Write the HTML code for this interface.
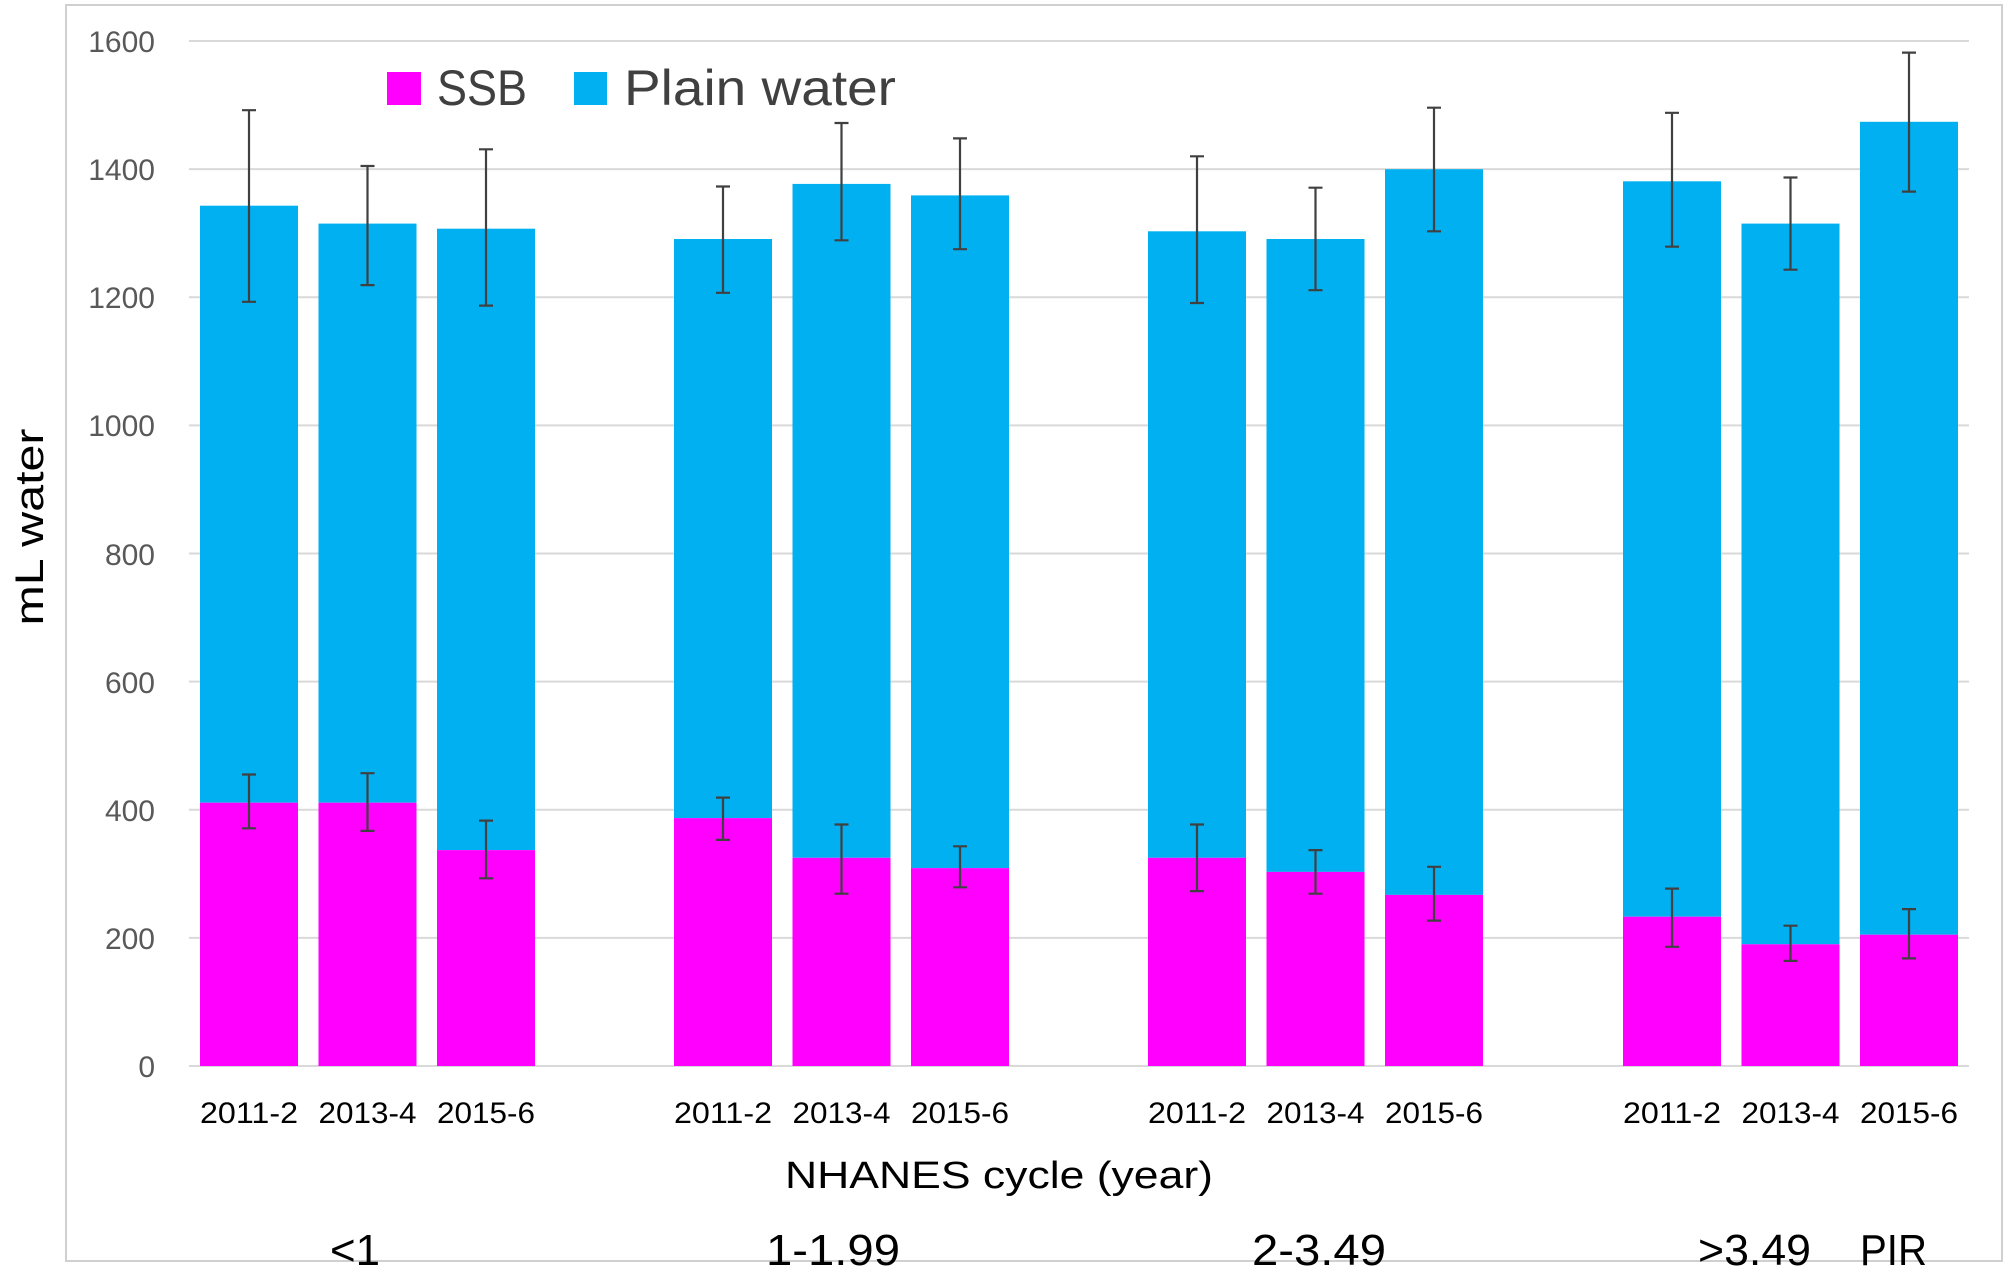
<!DOCTYPE html>
<html><head><meta charset="utf-8"><style>
html,body{margin:0;padding:0;background:#fff;}
svg{display:block;}
</style></head><body>
<svg width="2008" height="1271" viewBox="0 0 2008 1271" xmlns="http://www.w3.org/2000/svg" font-family="Liberation Sans, sans-serif">
<rect x="0" y="0" width="2008" height="1271" fill="#fff"/>
<rect x="66" y="5" width="1936" height="1256" fill="none" stroke="#d0d0d0" stroke-width="2"/>
<g stroke="#d9d9d9" stroke-width="2">
<line x1="189" x2="1969" y1="1066" y2="1066"/>
<line x1="189" x2="1969" y1="937.9" y2="937.9"/>
<line x1="189" x2="1969" y1="809.8" y2="809.8"/>
<line x1="189" x2="1969" y1="681.6" y2="681.6"/>
<line x1="189" x2="1969" y1="553.5" y2="553.5"/>
<line x1="189" x2="1969" y1="425.4" y2="425.4"/>
<line x1="189" x2="1969" y1="297.3" y2="297.3"/>
<line x1="189" x2="1969" y1="169.1" y2="169.1"/>
<line x1="189" x2="1969" y1="41" y2="41"/>
</g>
<g fill="#595959" font-size="30" text-anchor="end">
<text x="155" y="1077">0</text>
<text x="155" y="949">200</text>
<text x="155" y="821">400</text>
<text x="155" y="693">600</text>
<text x="155" y="565">800</text>
<text x="155" y="436">1000</text>
<text x="155" y="308">1200</text>
<text x="155" y="180">1400</text>
<text x="155" y="52">1600</text>
</g>
<text transform="translate(43,527) rotate(-90)" text-anchor="middle" font-size="40" fill="#000" textLength="197" lengthAdjust="spacingAndGlyphs">mL water</text>
<g fill="#00B0F0">
<rect x="200" y="205.7" width="98" height="597"/>
<rect x="318.5" y="223.6" width="98" height="579.1"/>
<rect x="437" y="228.7" width="98" height="621.4"/>
<rect x="674" y="239" width="98" height="579.1"/>
<rect x="792.5" y="183.9" width="98" height="673.9"/>
<rect x="911" y="195.4" width="98" height="672.7"/>
<rect x="1148" y="231.3" width="98" height="626.5"/>
<rect x="1266.5" y="239" width="98" height="632.9"/>
<rect x="1385" y="169.2" width="98" height="725.7"/>
<rect x="1623" y="181.3" width="98" height="735.4"/>
<rect x="1741.5" y="223.6" width="98" height="720.7"/>
<rect x="1860" y="121.8" width="98" height="812.9"/>
</g>
<g fill="#FF00FF">
<rect x="200" y="802.7" width="98" height="263.3"/>
<rect x="318.5" y="802.7" width="98" height="263.3"/>
<rect x="437" y="850.1" width="98" height="215.9"/>
<rect x="674" y="818.1" width="98" height="247.9"/>
<rect x="792.5" y="857.8" width="98" height="208.2"/>
<rect x="911" y="868.1" width="98" height="197.9"/>
<rect x="1148" y="857.8" width="98" height="208.2"/>
<rect x="1266.5" y="871.9" width="98" height="194.1"/>
<rect x="1385" y="894.9" width="98" height="171.1"/>
<rect x="1623" y="916.7" width="98" height="149.3"/>
<rect x="1741.5" y="944.3" width="98" height="121.7"/>
<rect x="1860" y="934.7" width="98" height="131.3"/>
</g>
<g stroke="#404040" stroke-width="2.2" fill="none">
<path d="M249 110.2V301.8M242 110.2H256M242 301.8H256"/>
<path d="M367.5 166V285.1M360.5 166H374.5M360.5 285.1H374.5"/>
<path d="M486 149.3V305.6M479 149.3H493M479 305.6H493"/>
<path d="M723 186.5V292.8M716 186.5H730M716 292.8H730"/>
<path d="M841.5 123V240.3M834.5 123H848.5M834.5 240.3H848.5"/>
<path d="M960 138.4V249.2M953 138.4H967M953 249.2H967"/>
<path d="M1197 156.3V303M1190 156.3H1204M1190 303H1204"/>
<path d="M1315.5 187.7V290.2M1308.5 187.7H1322.5M1308.5 290.2H1322.5"/>
<path d="M1434 107.7V231.3M1427 107.7H1441M1427 231.3H1441"/>
<path d="M1672 112.8V246.7M1665 112.8H1679M1665 246.7H1679"/>
<path d="M1790.5 177.5V269.7M1783.5 177.5H1797.5M1783.5 269.7H1797.5"/>
<path d="M1909 52.6V191.6M1902 52.6H1916M1902 191.6H1916"/>
<path d="M249 774.5V828.3M242 774.5H256M242 828.3H256"/>
<path d="M367.5 773.2V830.9M360.5 773.2H374.5M360.5 830.9H374.5"/>
<path d="M486 820.6V878.3M479 820.6H493M479 878.3H493"/>
<path d="M723 797.6V839.9M716 797.6H730M716 839.9H730"/>
<path d="M841.5 824.5V893.7M834.5 824.5H848.5M834.5 893.7H848.5"/>
<path d="M960 846.3V887.3M953 846.3H967M953 887.3H967"/>
<path d="M1197 824.5V891.1M1190 824.5H1204M1190 891.1H1204"/>
<path d="M1315.5 850.1V893.7M1308.5 850.1H1322.5M1308.5 893.7H1322.5"/>
<path d="M1434 866.8V920.6M1427 866.8H1441M1427 920.6H1441"/>
<path d="M1672 888.6V946.8M1665 888.6H1679M1665 946.8H1679"/>
<path d="M1790.5 925.7V960.9M1783.5 925.7H1797.5M1783.5 960.9H1797.5"/>
<path d="M1909 909.1V958.4M1902 909.1H1916M1902 958.4H1916"/>
</g>
<rect x="387" y="72" width="34" height="33" fill="#FF00FF"/>
<text x="437" y="105" font-size="50" fill="#404040" textLength="90" lengthAdjust="spacingAndGlyphs">SSB</text>
<rect x="574" y="72" width="33" height="33" fill="#00B0F0"/>
<text x="624" y="105" font-size="50" fill="#404040" textLength="272" lengthAdjust="spacingAndGlyphs">Plain water</text>
<g font-size="30" fill="#000" text-anchor="middle">
<text x="249" y="1123" textLength="98" lengthAdjust="spacingAndGlyphs">2011-2</text>
<text x="367.5" y="1123" textLength="98" lengthAdjust="spacingAndGlyphs">2013-4</text>
<text x="486" y="1123" textLength="98" lengthAdjust="spacingAndGlyphs">2015-6</text>
<text x="723" y="1123" textLength="98" lengthAdjust="spacingAndGlyphs">2011-2</text>
<text x="841.5" y="1123" textLength="98" lengthAdjust="spacingAndGlyphs">2013-4</text>
<text x="960" y="1123" textLength="98" lengthAdjust="spacingAndGlyphs">2015-6</text>
<text x="1197" y="1123" textLength="98" lengthAdjust="spacingAndGlyphs">2011-2</text>
<text x="1315.5" y="1123" textLength="98" lengthAdjust="spacingAndGlyphs">2013-4</text>
<text x="1434" y="1123" textLength="98" lengthAdjust="spacingAndGlyphs">2015-6</text>
<text x="1672" y="1123" textLength="98" lengthAdjust="spacingAndGlyphs">2011-2</text>
<text x="1790.5" y="1123" textLength="98" lengthAdjust="spacingAndGlyphs">2013-4</text>
<text x="1909" y="1123" textLength="98" lengthAdjust="spacingAndGlyphs">2015-6</text>
</g>
<text x="999" y="1188" font-size="38" text-anchor="middle" fill="#000" textLength="428" lengthAdjust="spacingAndGlyphs">NHANES cycle (year)</text>
<g font-size="44" fill="#000">
<text x="330" y="1265" textLength="50" lengthAdjust="spacingAndGlyphs">&lt;1</text>
<text x="766" y="1265" textLength="134" lengthAdjust="spacingAndGlyphs">1-1.99</text>
<text x="1252" y="1265" textLength="134" lengthAdjust="spacingAndGlyphs">2-3.49</text>
<text x="1698" y="1265" textLength="113" lengthAdjust="spacingAndGlyphs">&gt;3.49</text>
<text x="1860" y="1265" textLength="67" lengthAdjust="spacingAndGlyphs">PIR</text>
</g>
</svg>
</body></html>
